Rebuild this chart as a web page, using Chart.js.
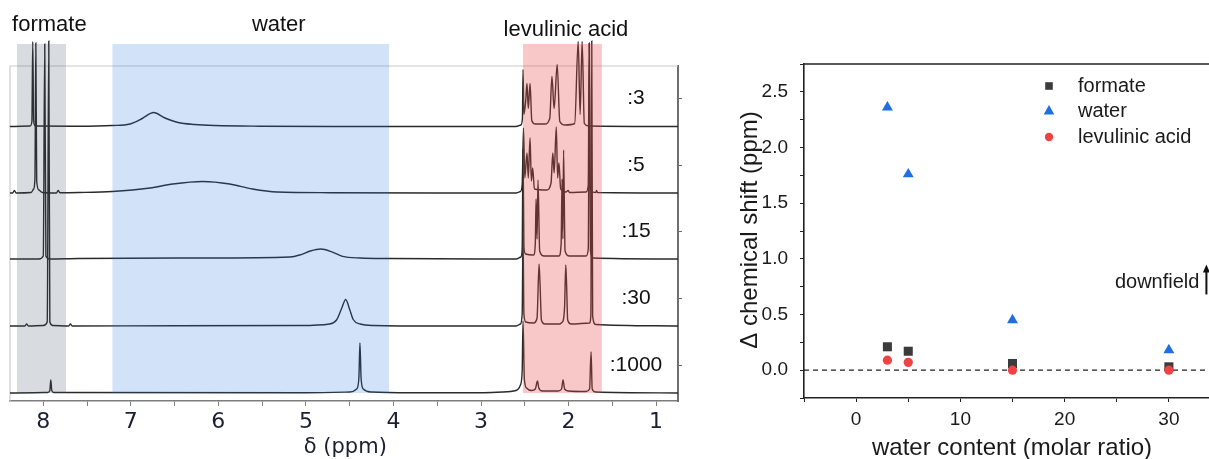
<!DOCTYPE html>
<html lang="en">
<head>
<meta charset="UTF-8">
<title>1H NMR vs water content</title>
<script src="https://cdn.jsdelivr.net/npm/chart.js"></script>
<style>
  html, body { margin: 0; padding: 0; background: #fff; overflow: hidden; }
  body { width: 1209px; height: 459px; position: relative; }
  #nmrBox { position: absolute; left: 0; top: 0; width: 700px; height: 459px; }
  #shiftBox { position: absolute; left: 700px; top: 0; width: 540px; height: 459px; }
</style>
</head>
<body>
<div id="nmrBox"><canvas id="nmrChart" width="700" height="459"></canvas></div>
<div id="shiftBox"><canvas id="shiftChart" width="540" height="459"></canvas></div>

<script>
// ---- left panel: stacked 1H spectra, [ppm, intensity] ----
const ratioLabels = [':3', ':5', ':15', ':30', ':1000'];
const traceOffsets = [274.5, 208, 142, 75, 8];   // vertical stacking of each trace

const spectrum3 = [
  [8.38, 0], [8.15, 0.5], [8.13, 5], [8.12, 85], [8.11, 5], [8.09, 0.5],
  [7.6, 0.3], [7.21, 1], [7.01, 2.5], [6.87, 8], [6.74, 14], [6.61, 8.5], [6.46, 4], [6.27, 2], [6.04, 1], [5.53, 0.3], [4.5, 0],
  [2.6, 0], [2.545, 1.5], [2.527, 8], [2.52, 57], [2.51, 12], [2.49, 25], [2.475, 43], [2.46, 18], [2.44, 43], [2.42, 6],
  [2.38, 2.5], [2.27, 2.5], [2.215, 8], [2.19, 50], [2.165, 18], [2.13, 62], [2.10, 5], [2.04, 1.5],
  [1.93, 3], [1.89, 85], [1.868, 12], [1.845, 85], [1.82, 3], [1.77, 0.5], [0.75, 0]
];
const spectrum5 = [
  [8.38, 0], [8.35, 0], [8.33, 2.5], [8.31, 0], [8.14, 0.5], [8.11, 4], [8.095, 15], [8.085, 150], [8.075, 12], [8.05, 3], [8.01, 0.5],
  [7.85, 0], [7.83, 2.5], [7.81, 0.3],
  [7.6, 0.5], [7.21, 1.5], [6.78, 5], [6.52, 9], [6.18, 11.5], [5.87, 9], [5.61, 4], [5.33, 1], [4.73, 0.3], [3.5, 0],
  [2.6, 0], [2.55, 1.5], [2.53, 8], [2.515, 65], [2.50, 15], [2.475, 40], [2.46, 15], [2.44, 55], [2.425, 12], [2.41, 25], [2.39, 4],
  [2.25, 3], [2.20, 10], [2.18, 40], [2.165, 20], [2.14, 66], [2.125, 15], [2.11, 30], [2.09, 4], [2.03, 1],
  [2.005, 2.5], [1.99, 0.5], [1.8, 1], [1.775, 8], [1.765, 150], [1.755, 8], [1.73, 1], [1.69, 0.5], [1.68, 2.5], [1.67, 0.5], [0.75, 0]
];
const spectrum15 = [
  [8.38, 0], [8.05, 0], [8.0, 3], [7.983, 215], [7.97, 3], [7.93, 0],
  [7.6, 0.5], [6.21, 1], [5.18, 2], [5.07, 4], [4.95, 8], [4.83, 10], [4.69, 6.6], [4.58, 2.6], [4.38, 1], [4.04, 0.5], [3.0, 0],
  [2.6, 0], [2.545, 2], [2.53, 10], [2.52, 110], [2.51, 12], [2.49, 5], [2.40, 4], [2.38, 15], [2.371, 60], [2.36, 20], [2.349, 79], [2.33, 8],
  [2.28, 3], [2.11, 3], [2.085, 15], [2.074, 80], [2.065, 20], [2.057, 109], [2.04, 8], [1.99, 3],
  [1.80, 3], [1.775, 10], [1.762, 215], [1.75, 8], [1.72, 1], [0.75, 0]
];
const spectrum30 = [
  [8.38, 0], [8.21, 0], [8.19, 2], [8.17, 0], [8.0, 0.5], [7.955, 4], [7.937, 285], [7.925, 4], [7.89, 0.5], [7.71, 0], [7.69, 2], [7.67, 0],
  [6.5, 0.3], [5.07, 0.5], [4.73, 2], [4.65, 6], [4.59, 18], [4.546, 26.5], [4.50, 16.5], [4.46, 6.5], [4.38, 2], [4.23, 0.5], [3.5, 0],
  [2.6, 0], [2.55, 2], [2.53, 12], [2.52, 90], [2.51, 12], [2.49, 4], [2.40, 3], [2.36, 8], [2.337, 62], [2.325, 40], [2.31, 6], [2.27, 2],
  [2.10, 2], [2.078, 3.5], [2.06, 6], [2.045, 20], [2.032, 61], [2.022, 40], [2.01, 6], [1.97, 2],
  [1.76, 3], [1.745, 12], [1.735, 285], [1.725, 10], [1.69, 1.5], [0.75, 0]
];
const spectrum1000 = [
  [8.38, 0], [7.95, 0.5], [7.925, 2.5], [7.914, 13], [7.903, 2.5], [7.88, 0.5],
  [5.0, 0.3], [4.5, 1], [4.42, 4], [4.395, 15], [4.383, 50], [4.37, 15], [4.345, 4], [4.25, 1], [3.8, 0.3], [3.0, 0.3], [2.75, 1],
  [2.60, 2.5], [2.55, 8], [2.53, 22], [2.52, 72], [2.505, 14], [2.48, 5], [2.42, 2.5], [2.38, 4], [2.355, 12], [2.34, 5], [2.30, 2],
  [2.12, 2], [2.08, 4], [2.063, 13], [2.045, 4], [2.00, 2], [1.80, 1.5], [1.76, 4], [1.743, 41], [1.73, 4], [1.69, 1], [0.75, 0]
];
const spectra = [spectrum3, spectrum5, spectrum15, spectrum30, spectrum1000];

const ppmTicks = [8, 7.5, 7, 6.5, 6, 5.5, 5, 4.5, 4, 3.5, 3, 2.5, 2, 1.5, 1];

// highlighted regions [ppm from, ppm to], label and where the label sits (ppm)
const regionNames = ['formate', 'water', 'levulinic acid'];
const regionRanges = [[8.30, 7.74], [7.21, 4.05], [2.52, 1.62]];
const regionLabelPpm = [7.93, 5.31, 2.03];
const regionColors = ['rgba(60, 75, 95, 0.2)', 'rgba(30, 110, 220, 0.2)', 'rgba(232, 72, 72, 0.3)'];

// ---- right panel: shift change vs water content ----
const waterRatio = [3, 5, 15, 30];
const formateShift = [0.21, 0.17, 0.06, 0.03];
const waterShift = [2.36, 1.76, 0.45, 0.18];
const levulinicShift = [0.09, 0.07, 0.0, 0.0];

Chart.defaults.font.family = '"Liberation Sans", Arial, sans-serif';
Chart.defaults.color = '#1a1a1a';

const nmrDecor = {
  id: 'nmrDecor',
  beforeDatasetsDraw(chart) {
    const { ctx, chartArea: a } = chart;
    ctx.save();
    ctx.strokeStyle = '#cccccc';
    ctx.lineWidth = 1.2;
    ctx.beginPath();
    ctx.moveTo(a.left, a.bottom);
    ctx.lineTo(a.left, a.top);
    ctx.lineTo(a.right, a.top);
    ctx.stroke();
    ctx.restore();
  },
  afterDatasetsDraw(chart) {
    const { ctx, chartArea: a, scales: { x, y } } = chart;
    const top = a.top - 22;
    const bottom = y.getPixelForValue(traceOffsets[4]);
    ctx.save();
    regionRanges.forEach((r, i) => {
      const x0 = x.getPixelForValue(r[0]);
      const x1 = x.getPixelForValue(r[1]);
      ctx.fillStyle = regionColors[i];
      ctx.fillRect(x0, top, x1 - x0, bottom - top);
    });

    ctx.fillStyle = '#111';
    ctx.textAlign = 'center';
    ctx.textBaseline = 'middle';
    ctx.font = '22px "Liberation Sans", Arial, sans-serif';
    regionNames.forEach((name, i) => {
      ctx.fillText(name, x.getPixelForValue(regionLabelPpm[i]), i === 2 ? a.top - 36 : a.top - 41);
    });

    ctx.font = '21px "Liberation Sans", Arial, sans-serif';
    ratioLabels.forEach((lab, i) => {
      ctx.fillText(lab, x.getPixelForValue(1.23), y.getPixelForValue(traceOffsets[i] + 28));
    });

    ctx.font = '21px "DejaVu Sans", Verdana, sans-serif';
    ctx.fillStyle = '#1c1f33';
    ctx.fillText('δ (ppm)', x.getPixelForValue(4.55), 448);
    ctx.restore();
  }
};

new Chart(document.getElementById('nmrChart'), {
  type: 'line',
  data: {
    datasets: spectra.map((pts, i) => ({
      label: ratioLabels[i],
      data: pts.map(p => ({ x: p[0], y: traceOffsets[i] + p[1] })),
      borderColor: '#2a2a2a',
      borderWidth: 1.4,
      pointRadius: 0,
      cubicInterpolationMode: 'monotone',
      clip: false
    }))
  },
  options: {
    responsive: false,
    animation: false,
    devicePixelRatio: 1,
    layout: { padding: { left: 10, top: 66, right: 16, bottom: 0 } },
    plugins: { legend: { display: false }, tooltip: { enabled: false } },
    scales: {
      x: {
        type: 'linear', reverse: true, min: 0.75, max: 8.38,
        afterBuildTicks: s => { s.ticks = ppmTicks.map(v => ({ value: v })); },
        afterFit: s => { s.height = 58; },
        border: { color: '#7d7d7d', width: 1.5 },
        grid: { drawOnChartArea: false, tickLength: 5, color: '#7d7d7d' },
        ticks: {
          autoSkip: false, maxRotation: 0, padding: 3, color: '#1c1f33',
          font: { family: '"DejaVu Sans", Verdana, sans-serif', size: 22 },
          callback: v => Number.isInteger(v) ? String(v) : ''
        }
      },
      y: {
        type: 'linear', position: 'right', min: 0, max: 335,
        afterBuildTicks: s => { s.ticks = traceOffsets.map(o => ({ value: o + 28 })); },
        afterFit: s => { s.width = 6; },
        border: { color: '#6e6e6e', width: 2 },
        grid: { drawOnChartArea: false, tickLength: 4, color: '#6e6e6e' },
        ticks: { display: false }
      }
    }
  },
  plugins: [nmrDecor]
});

const shiftDecor = {
  id: 'shiftDecor',
  beforeDatasetsDraw(chart) {
    const { ctx, chartArea: a, scales: { y } } = chart;
    ctx.save();
    ctx.strokeStyle = '#222';
    ctx.lineWidth = 1.6;
    ctx.beginPath();
    ctx.moveTo(a.left, a.top);
    ctx.lineTo(chart.width, a.top);
    ctx.stroke();
    ctx.lineWidth = 1.4;
    ctx.setLineDash([5, 4]);
    ctx.beginPath();
    ctx.moveTo(a.left, y.getPixelForValue(0));
    ctx.lineTo(a.right, y.getPixelForValue(0));
    ctx.stroke();
    ctx.restore();
  },
  afterDraw(chart) {
    const { ctx, scales: { x, y } } = chart;
    const sets = chart.data.datasets;
    ctx.save();
    // legend
    ctx.font = '20px "Liberation Sans", Arial, sans-serif';
    ctx.textBaseline = 'middle';
    ctx.textAlign = 'left';
    const legendY = [86, 111, 137];
    sets.forEach((ds, i) => {
      const cx = 349, cy = legendY[i];
      ctx.fillStyle = ds.backgroundColor;
      ctx.beginPath();
      if (ds.pointStyle === 'rect') ctx.rect(cx - 3.8, cy - 3.8, 7.6, 7.6);
      else if (ds.pointStyle === 'triangle') { ctx.moveTo(cx, cy - 6); ctx.lineTo(cx + 5.3, cy + 3.5); ctx.lineTo(cx - 5.3, cy + 3.5); ctx.closePath(); }
      else ctx.arc(cx, cy, 4.2, 0, Math.PI * 2);
      ctx.fill();
      ctx.fillStyle = '#1a1a1a';
      ctx.fillText(ds.label, 378, cy);
    });

    // downfield arrow
    const ax = x.getPixelForValue(33.6);
    const y0 = y.getPixelForValue(0.68), y1 = y.getPixelForValue(0.95);
    ctx.textAlign = 'right';
    ctx.fillText('downfield', ax - 7, y.getPixelForValue(0.785));
    ctx.strokeStyle = '#111';
    ctx.lineWidth = 2;
    ctx.beginPath();
    ctx.moveTo(ax, y0);
    ctx.lineTo(ax, y1 + 6);
    ctx.stroke();
    ctx.fillStyle = '#111';
    ctx.beginPath();
    ctx.moveTo(ax, y1);
    ctx.lineTo(ax + 3.5, y1 + 8);
    ctx.lineTo(ax - 3.5, y1 + 8);
    ctx.closePath();
    ctx.fill();

    // axis titles
    ctx.fillStyle = '#1a1a1a';
    ctx.font = '24px "Liberation Sans", Arial, sans-serif';
    ctx.textAlign = 'center';
    ctx.fillText('water content (molar ratio)', 312, 448);
    ctx.translate(50, 230);
    ctx.rotate(-Math.PI / 2);
    ctx.fillText('Δ chemical shift (ppm)', 0, 0);
    ctx.restore();
  }
};

new Chart(document.getElementById('shiftChart'), {
  type: 'scatter',
  data: {
    datasets: [
      { label: 'formate', data: waterRatio.map((w, i) => ({ x: w, y: formateShift[i] })),
        pointStyle: 'rect', pointRadius: 6.4, backgroundColor: '#3b3b3b', borderWidth: 0, order: 3 },
      { label: 'water', data: waterRatio.map((w, i) => ({ x: w, y: waterShift[i] })),
        pointStyle: 'triangle', pointRadius: 6.3, backgroundColor: '#1f6fe0', borderWidth: 0, order: 2 },
      { label: 'levulinic acid', data: waterRatio.map((w, i) => ({ x: w, y: levulinicShift[i] })),
        pointStyle: 'circle', pointRadius: 4.6, backgroundColor: '#ef4343', borderWidth: 0, order: 1 }
    ]
  },
  options: {
    responsive: false,
    animation: false,
    devicePixelRatio: 1,
    layout: { padding: { left: 0, top: 64, right: 19, bottom: 0 } },
    plugins: { legend: { display: false }, tooltip: { enabled: false } },
    scales: {
      x: {
        min: -5, max: 35,
        afterFit: s => { s.height = 61; },
        border: { color: '#222', width: 1.6 },
        grid: { drawOnChartArea: false, tickLength: 4, color: '#222' },
        ticks: { stepSize: 5, autoSkip: false, maxRotation: 0, padding: 6, color: '#1a1a1a', font: { size: 19 },
                 callback: v => v % 10 === 0 ? String(v) : '' }
      },
      y: {
        min: -0.25, max: 2.75,
        afterFit: s => { s.width = 104; },
        border: { color: '#222', width: 1.6 },
        grid: { drawOnChartArea: false, tickLength: 4, color: '#222' },
        ticks: { stepSize: 0.25, autoSkip: false, padding: 12, color: '#1a1a1a', font: { size: 19 },
                 callback: v => Math.abs(v * 2 - Math.round(v * 2)) < 1e-6 ? v.toFixed(1) : '' }
      }
    }
  },
  plugins: [shiftDecor]
});
</script>
</body>
</html>
